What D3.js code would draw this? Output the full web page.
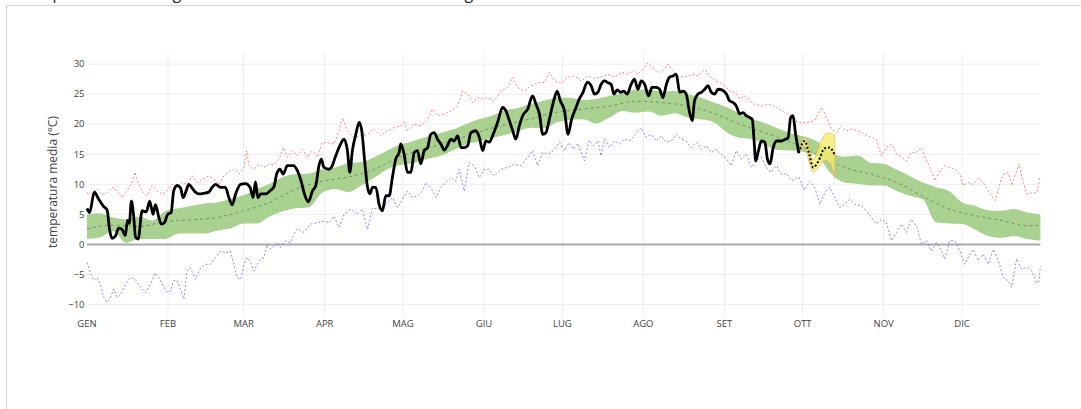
<!DOCTYPE html>
<html>
<head>
<meta charset="utf-8">
<script src="https://cdn.jsdelivr.net/npm/d3@7"></script>
<style>
  html, body { margin: 0; padding: 0; background: #fff; overflow: hidden; }
  #frame { position: absolute; left: 6px; top: 5px; width: 1200px; height: 600px;
           border-left: 1px solid #d4d4d4; border-top: 1px solid #d4d4d4; }
  svg { position: absolute; left: 0; top: 0; }
  text { font-family: "Open Sans", Verdana, Arial, sans-serif; }
</style>
</head>
<body>
<div id="frame"></div>
<svg id="chart" width="1081" height="409"></svg>
<script>
// ---- data -------------------------------------------------------------
const monthLabels = ["GEN","FEB","MAR","APR","MAG","GIU","LUG","AGO","SET","OTT","NOV","DIC"];
const monthStartDay = [0,31,60,91,121,152,182,213,244,274,305,335];
const yTicks = [-10,-5,0,5,10,15,20,25,30];

// normal range (every 5 days, day 0 = 1 January)
const bandStep = 5;
const bandLow = [
  0.9,1.2,2.2,0.3,0.9,0.9,0.9,1.8,1.8,1.8,
  2.3,2.7,3.5,3.5,4.7,5.5,6.0,6.2,8.6,9.2,
  8.7,9.8,11.1,12.5,13.2,13.5,14.2,14.7,15.6,16.6,
  17.1,17.7,18.2,18.8,19.4,19.3,20.3,20.7,20.8,20.1,
  21.1,22.2,21.9,22.1,21.4,21.8,21.1,20.8,20.3,18.6,
  17.7,17.5,16.4,15.7,15.6,15.3,14.5,11.7,10.3,10.1,
  9.8,9.8,8.9,8.1,7.5,3.7,3.5,3.4,2.5,1.4,
  1.1,1.4,0.9,0.6
];
const bandHigh = [
  5.0,5.2,4.5,4.2,4.6,4.0,5.5,6.0,6.4,6.8,
  7.0,7.6,8.2,9.2,10.1,11.2,11.7,11.8,12.5,12.8,
  13.5,13.7,14.5,15.6,16.6,17.2,17.9,18.5,19.1,20.0,
  20.8,21.4,22.3,22.7,23.4,23.9,24.4,24.4,24.0,24.2,
  24.7,25.1,25.7,25.7,25.4,25.5,25.0,24.4,23.6,22.8,
  21.7,20.8,20.1,19.2,18.4,17.9,17.0,15.3,14.6,14.8,
  13.6,13.4,12.4,11.4,10.3,9.5,8.9,7.0,6.4,5.7,
  5.6,5.9,5.3,5.0
];

// climatological mean [day, °C]
const normalMean = [
  [0,2.6],[10,3.2],[20,3.0],[30,3.8],[40,4.1],[50,4.5],[60,5.6],[70,7.0],[80,9.2],[90,10.5],
  [100,11.2],[110,12.5],[120,14.6],[130,16.0],[140,17.3],[150,18.7],[160,19.9],[170,20.9],
  [180,22.0],[190,22.5],[200,23.0],[210,23.8],[220,23.6],[230,23.0],[240,21.8],[250,20.0],
  [260,18.5],[270,16.9],[280,14.9],[290,12.8],[300,11.7],[310,10.3],[320,8.0],[330,5.9],
  [340,4.8],[350,4.0],[360,3.1],[365,3.2]
];

// record highest daily mean [day, °C]
const recordMax = [
  [0,8.6],[1.3,8.4],[3.8,9.2],[5.7,8.3],[7.7,8.6],[9.6,9.5],[11.5,8.9],[13.4,7.8],[15.3,8.9],
  [17.3,10.3],[18.3,12.0],[19.8,10.0],[21.1,8.9],[23,8.1],[24.9,9.8],[26.8,8.9],[28.8,8.4],
  [30.7,8.9],[32.6,10.0],[34.5,9.5],[36.4,10.3],[38.3,10.0],[40.3,11.4],[42.2,10.3],[44.7,10.9],
  [46.6,11.4],[48.6,10.9],[50.5,10.0],[52.4,11.4],[54.3,12.0],[56.2,12.5],[58.2,11.7],[60.1,12.8],
  [61.1,15.6],[62,13.1],[63.9,12.5],[65.8,13.3],[67.7,12.8],[69.7,13.3],[71.6,13.3],[73.5,14.2],
  [75.2,16.1],[76.7,14.5],[78.6,15.6],[80.5,14.7],[82.4,15.8],[84.4,14.5],[86.3,15.6],[88.2,14.5],
  [90.1,17.0],[92,16.9],[94.6,16.7],[96.5,18.9],[97.8,21.1],[99.7,18.9],[102.3,17.8],[104.8,18.1],
  [107.4,18.3],[109.9,19.2],[112.5,18.1],[115,18.9],[117.6,19.4],[120.1,19.7],[121.4,20.3],
  [122.7,18.9],[125.3,20.0],[127.8,19.7],[130.4,20.8],[132.3,22.5],[134.2,21.4],[136.8,21.7],
  [139.3,22.2],[141.9,23.0],[143.8,25.5],[145.7,25.0],[147.6,23.6],[149.5,24.4],[151.5,24.2],
  [153.4,24.4],[155.9,23.9],[158.5,25.5],[161,26.1],[163,27.8],[164.9,26.1],[167.5,25.5],
  [170,26.4],[172.6,26.9],[175.1,26.9],[177,28.6],[179,27.2],[181.5,26.8],[184.1,27.8],
  [186.6,28.0],[189.2,27.2],[191.7,28.0],[194.3,27.6],[196.8,27.9],[199.4,28.3],[201.9,27.8],
  [204.5,28.6],[207.1,28.3],[209,28.9],[210.9,28.3],[212.8,29.1],[214.7,30.2],[216.6,29.4],
  [218.6,28.6],[220.5,28.9],[222.4,30.0],[224.3,28.9],[226.2,28.0],[228.2,27.8],[230.1,28.0],
  [232,28.3],[233.9,28.0],[236.5,29.1],[238.4,28.0],[240.3,27.2],[242.2,26.9],[244.1,26.4],
  [246,25.5],[248,25.3],[249.9,24.2],[251.8,24.7],[253.7,23.9],[255.6,23.3],[258.2,23.0],
  [260.7,23.3],[263.3,23.0],[265.9,22.2],[268.4,21.7],[271,20.6],[273.5,20.2],[276,20.3],
  [278.6,20.6],[281.3,22.8],[283.1,21.1],[285,19.2],[286.9,18.6],[288.8,19.7],[290.7,18.9],
  [292.6,19.2],[295.2,18.9],[297.8,18.3],[300.3,17.8],[302.2,17.5],[304.1,14.7],[306,16.1],
  [308,16.7],[309.9,15.0],[311.8,14.5],[313.7,13.9],[315.6,15.3],[317.6,15.3],[319.5,16.1],
  [320.8,14.5],[322.7,12.8],[324.6,10.6],[326.5,12.2],[328.4,13.1],[330.3,12.8],[332.3,12.5],
  [334.2,11.7],[335.5,9.8],[337.4,10.3],[339.3,10.0],[341.2,10.9],[343.1,10.3],[345,8.9],
  [347.6,7.3],[350.2,11.1],[351.4,11.9],[352.7,11.9],[354,9.8],[355.3,11.4],[356.8,13.4],
  [357.8,11.4],[359.7,8.4],[361.7,8.6],[363.6,8.6],[365,11.4]
];

// record lowest daily mean [day, °C]
const recordMin = [
  [0,-3.0],[1.3,-4.7],[2.6,-6.0],[3.8,-5.5],[5.1,-6.6],[6.4,-8.8],[7.7,-9.6],[9,-8.8],[10.2,-7.4],
  [11.5,-8.8],[12.8,-8.3],[14.1,-7.2],[15.3,-6.3],[16.6,-5.5],[18.5,-5.8],[20.4,-7.1],[22.4,-8.0],
  [24.3,-6.6],[26.2,-4.7],[27.5,-5.5],[28.8,-6.6],[30.7,-8.0],[32,-7.7],[33.2,-6.0],[34.5,-6.0],
  [35.8,-7.4],[37.1,-9.1],[38.3,-4.4],[39.6,-3.9],[41.5,-5.8],[43.5,-3.9],[45.4,-3.3],[47.3,-3.3],
  [49.2,-2.2],[51.1,-1.1],[53,-1.4],[54.9,-1.1],[56.2,-3.3],[57.5,-5.5],[58.8,-5.8],[60.1,-3.3],
  [61.3,-2.2],[62.6,-3.0],[63.9,-4.4],[65.2,-3.3],[66.5,-2.5],[67.7,-2.2],[69,0.0],[70.3,-0.8],
  [71.6,-0.2],[72.9,0.3],[74.1,-0.5],[76,0.6],[77.9,0.3],[79.2,1.7],[80.5,2.6],[81.8,2.3],
  [83.1,2.0],[84.4,2.8],[85.6,3.4],[88.2,3.6],[90.8,3.9],[92.7,3.6],[94.6,4.7],[96.5,2.8],
  [98.4,5.0],[101,5.9],[103.5,5.0],[105.4,5.9],[107.4,2.5],[109.3,6.1],[111.2,5.9],[113.1,6.1],
  [115,7.0],[117,7.8],[118.9,6.1],[120.8,7.5],[122.7,8.9],[124.6,7.8],[126.5,8.1],[128.5,8.9],
  [129.7,10.3],[131.6,9.5],[133.6,7.8],[135.5,9.5],[137.4,10.3],[139.3,11.1],[141.2,10.5],
  [142.5,12.5],[144.4,8.9],[146.3,13.6],[148.3,13.1],[150.2,11.1],[152.1,12.5],[154,12.5],
  [155.9,11.4],[158.5,12.5],[161,12.8],[163.6,13.3],[166.2,13.1],[168.7,14.5],[170.6,15.6],
  [172.5,13.1],[174.5,15.3],[176.4,15.0],[179,15.8],[180.9,17.0],[182.8,15.6],[184.5,16.9],
  [186.2,15.8],[187.9,16.8],[190.4,13.9],[192.2,17.3],[194,16.4],[195.6,17.2],[196.8,14.7],
  [198.1,17.5],[200,16.1],[201.9,17.2],[203.9,16.7],[205.8,17.5],[207.7,17.2],[209.6,18.1],
  [212.2,19.4],[214.1,17.8],[216,18.3],[217.9,17.2],[219.8,18.1],[221.8,17.0],[223.7,17.2],
  [225.6,18.3],[227.5,17.5],[229.4,17.2],[231.3,16.1],[233.3,17.0],[235.2,15.8],[237.1,16.4],
  [239,15.3],[240.9,15.8],[242.8,15.0],[244.8,14.2],[246.7,13.1],[248.6,15.6],[250.5,14.2],
  [252.4,15.0],[254.4,12.8],[256.3,13.9],[258.2,14.5],[260.1,12.8],[262,12.0],[263.9,13.1],
  [265.9,11.6],[267.8,11.8],[269.7,10.6],[271,10.9],[272.6,11.2],[274.6,9.0],[276.7,10.5],
  [278.6,9.5],[280.6,6.7],[282.5,8.7],[284.3,9.5],[286.3,7.8],[288.2,6.1],[290.1,6.7],
  [292,7.5],[293.9,6.7],[296.5,6.4],[298.4,5.6],[300.3,4.5],[302.2,3.4],[304.1,4.2],[306,3.7],
  [308,0.6],[309.9,2.0],[311.8,3.4],[313.7,2.0],[315.6,4.2],[317.6,3.1],[319.5,0.0],[321.4,0.6],
  [323.3,-1.1],[325.2,0.3],[327.2,-1.1],[328.4,-2.4],[330.3,0.6],[332.3,0.6],[334.2,-1.1],
  [336.1,-3.3],[338,-1.6],[339.3,-0.8],[341.2,-2.7],[343.1,-1.6],[345,-3.3],[347,-0.8],
  [348.9,-2.7],[350.8,-5.5],[352.7,-6.1],[354,-7.1],[355.9,-2.4],[357.8,-4.1],[359.7,-3.8],
  [361.7,-4.4],[363.6,-6.4],[364.5,-6.1],[365,-3.6]
];

// observed daily mean of the current year [day, °C]
const observed = [
  [0,6.0],[1,5.3],[2.8,8.7],[4.5,7.5],[6.4,6.3],[7.7,5.7],[8.7,2.3],[9.6,1.0],[10.9,1.4],
  [12.1,2.7],[13.4,2.5],[14.7,1.5],[15.5,4.0],[16.2,3.5],[17,7.2],[17.8,5.0],[18.6,1.2],
  [19.6,0.9],[21.1,5.6],[22.7,5.4],[24,7.2],[25.3,5.0],[26.2,6.6],[27.5,4.5],[28.4,3.4],
  [29.6,3.6],[30.9,5.0],[32.2,5.3],[33.2,8.9],[34.5,9.8],[35.8,9.4],[36.8,7.8],[37.8,8.7],
  [39,10.0],[40.2,9.4],[41.5,8.7],[42.8,8.4],[44.7,8.5],[46.6,8.7],[47.9,9.5],[49.2,10.0],
  [51.1,9.5],[53,9.5],[54.3,7.8],[55.6,6.6],[56.9,8.4],[58.8,10.0],[60.7,10.1],[62.4,9.5],
  [63.6,7.8],[64.5,10.4],[65.4,7.8],[66.5,8.4],[68.4,8.4],[70.3,9.0],[71.6,9.6],[72.6,11.7],
  [73.9,12.5],[75.1,11.7],[76.7,13.1],[79,13.1],[80.5,12.3],[82,10.5],[83.3,8.3],[84.8,7.1],
  [86.3,8.9],[87.6,9.8],[88.8,13.1],[89.7,14.2],[90.7,12.8],[92.7,12.5],[93.9,13.1],[95.2,14.7],
  [97.1,16.7],[98.4,17.5],[99.7,15.6],[100.6,12],[101.6,15.6],[102.9,18.3],[104.2,20.3],
  [105.2,18.9],[106.3,13.9],[107.4,9.5],[108.3,8.4],[109.3,9.5],[110.6,9.5],[111.8,6.7],
  [113.1,5.6],[114.4,8.1],[115.7,8.1],[116.9,11.1],[118.2,14.2],[119.5,15.3],[120.1,16.7],
  [121.4,15],[122.7,12],[124,12],[125.3,15.3],[126.5,15.6],[127.8,13.4],[129.1,15.6],
  [130.4,16.1],[131.6,18.3],[132.9,18.6],[134.2,17.5],[135.5,16.7],[136.8,15.7],[138,16.4],
  [139.3,17.5],[140.6,17.2],[141.9,18.1],[143.2,16.1],[144.4,16.1],[145.7,16.4],[147,18.6],
  [148.9,18.9],[150.2,17.8],[151.5,15.6],[152.7,17.2],[154,17],[155.3,18.1],[157.2,20.3],
  [159.1,22.8],[160.4,22.2],[161.7,20.6],[163,18.9],[164.2,17.5],[165.5,19.7],[166.8,21.4],
  [168.7,22.5],[170.6,24.7],[171.9,23.3],[173.2,21.7],[174.5,18.3],[175.7,18.6],[177,20.8],
  [178.7,23.9],[180,25.5],[181.2,23.9],[182.8,22.2],[184.2,18.3],[185.5,20.8],[187,22.5],
  [188.5,24.2],[189.8,25.2],[191.6,27.0],[193,26.4],[194.3,25],[195.6,25.3],[196.8,26.6],
  [198.1,27.2],[199.4,26.9],[200.7,26.6],[201.7,25],[203,25.7],[204.3,25.3],[205.5,25.5],
  [206.8,25],[208.3,26.6],[209.6,27.5],[210.9,25.8],[212.2,27.2],[213.5,26.6],[215,24.7],
  [216.3,26.1],[217.9,26.1],[219.2,25.8],[220.5,24.4],[221.8,26.6],[223,27.8],[224.3,28],
  [225.6,28.3],[226.9,25.3],[228.2,25.5],[229.4,25],[230.7,21.9],[231.7,20.6],[232.6,23.9],
  [233.9,25],[235.2,25.3],[236.5,25.8],[237.7,26.4],[239,25.3],[240.3,25],[241.6,25.8],
  [243.1,25.7],[244.8,25],[246,23.9],[247.3,23.6],[248.6,23],[249.9,21.7],[251.2,21.9],
  [252.4,21.4],[253.7,21.1],[254.7,20.8],[255.4,17.2],[256,13.9],[256.9,15.3],[258.2,17.2],
  [259.5,17],[260.5,14.2],[261.5,13.4],[262.7,16.1],[264,17.2],[265.9,17.2],[267.4,17.5],
  [268.4,17.7],[269.4,21.1],[270.3,21.4],[271.2,18.6],[272.5,15.2]
];

// forecast [day, mean, low, high]
const forecast = [
  [272.5,15.2,15.0,15.4],[274.8,17.2,16.4,17.8],[276.5,15.0,13.5,16.2],[278,12.8,12.0,14.0],
  [280,13.8,12.8,16.0],[282.4,16.0,14.0,18.2],[284.3,16.1,13.6,18.5],[286.3,14.8,11.0,18.2]
];

// ---- layout -----------------------------------------------------------
const svg = d3.select("#chart");
const x = d3.scaleLinear().domain([0, 366]).range([87, 1043]);
const y = d3.scaleLinear().domain([-10, 30]).range([304.6, 64]);
const plotTop = 53, plotBottom = 317, lastDay = 365;

// title (partly above the frame)
svg.append("text")
  .attr("x", 20).attr("y", -1)
  .attr("font-size", 16).attr("fill", "#222")
  .text("Temperatura media giornaliera a confronto con la climatologia");

// grid
const grid = svg.append("g");
grid.selectAll("line.h").data(yTicks.filter(v => v !== 0)).join("line")
  .attr("x1", x(0)).attr("x2", x(lastDay))
  .attr("y1", d => y(d)).attr("y2", d => y(d))
  .attr("stroke", "#eeeeee").attr("stroke-width", 1);
grid.selectAll("line.v").data(monthStartDay.slice(1)).join("line")
  .attr("x1", d => x(d)).attr("x2", d => x(d))
  .attr("y1", plotTop).attr("y2", plotBottom)
  .attr("stroke", "#eeeeee").attr("stroke-width", 1);

// zero line
svg.append("line")
  .attr("x1", x(0)).attr("x2", x(lastDay))
  .attr("y1", y(0)).attr("y2", y(0))
  .attr("stroke", "#aaaaaa").attr("stroke-width", 2);

// normal range band
const band = d3.area()
  .x((d, i) => x(i * bandStep))
  .y0((d, i) => y(bandLow[i]))
  .y1((d, i) => y(bandHigh[i]))
  .curve(d3.curveMonotoneX);
svg.append("path").attr("d", band(bandLow))
  .attr("fill", "#a9d18f").attr("stroke", "none");

const lineOf = curve => d3.line().x(d => x(d[0])).y(d => y(d[1])).curve(curve);

// climatological mean
svg.append("path").attr("d", lineOf(d3.curveMonotoneX)(normalMean))
  .attr("fill", "none").attr("stroke", "rgba(90,90,90,0.55)")
  .attr("stroke-width", 1).attr("stroke-dasharray", "3,3");

// records
svg.append("path").attr("d", lineOf(d3.curveLinear)(recordMax))
  .attr("fill", "none").attr("stroke", "rgba(255,90,90,0.75)")
  .attr("stroke-width", 1).attr("stroke-dasharray", "2,2");
svg.append("path").attr("d", lineOf(d3.curveLinear)(recordMin))
  .attr("fill", "none").attr("stroke", "rgba(100,100,255,0.75)")
  .attr("stroke-width", 1).attr("stroke-dasharray", "2,2");

// forecast uncertainty
const fcArea = d3.area()
  .x(d => x(d[0])).y0(d => y(d[2])).y1(d => y(d[3]))
  .curve(d3.curveMonotoneX);
svg.append("path").attr("d", fcArea(forecast))
  .attr("fill", "rgba(245,236,110,0.8)")
  .attr("stroke", "rgba(240,170,80,0.6)").attr("stroke-width", 1);

// observed
svg.append("path").attr("d", lineOf(d3.curveMonotoneX)(observed))
  .attr("fill", "none").attr("stroke", "#000")
  .attr("stroke-width", 2.8).attr("stroke-linejoin", "round");

// forecast mean
svg.append("path")
  .attr("d", lineOf(d3.curveMonotoneX)(forecast.map(d => [d[0], d[1]])))
  .attr("fill", "none").attr("stroke", "#000")
  .attr("stroke-width", 2).attr("stroke-dasharray", "2,2");

// axes labels
svg.selectAll("text.ytick").data(yTicks).join("text")
  .attr("class", "ytick")
  .attr("x", 84.5).attr("y", d => y(d) + 3.3)
  .attr("text-anchor", "end").attr("font-size", 9.5).attr("fill", "#444")
  .text(d => d < 0 ? "\u2212" + Math.abs(d) : d);

svg.selectAll("text.xtick").data(monthLabels).join("text")
  .attr("class", "xtick")
  .attr("x", (d, i) => x(monthStartDay[i])).attr("y", 326.5)
  .attr("text-anchor", "middle").attr("font-size", 9.5).attr("fill", "#444")
  .text(d => d);

svg.append("text")
  .attr("transform", "translate(52.5,182) rotate(-90)")
  .attr("text-anchor", "middle").attr("dominant-baseline", "central")
  .attr("font-size", 12).attr("fill", "#444")
  .text("temperatura media (°C)");
</script>
</body>
</html>
